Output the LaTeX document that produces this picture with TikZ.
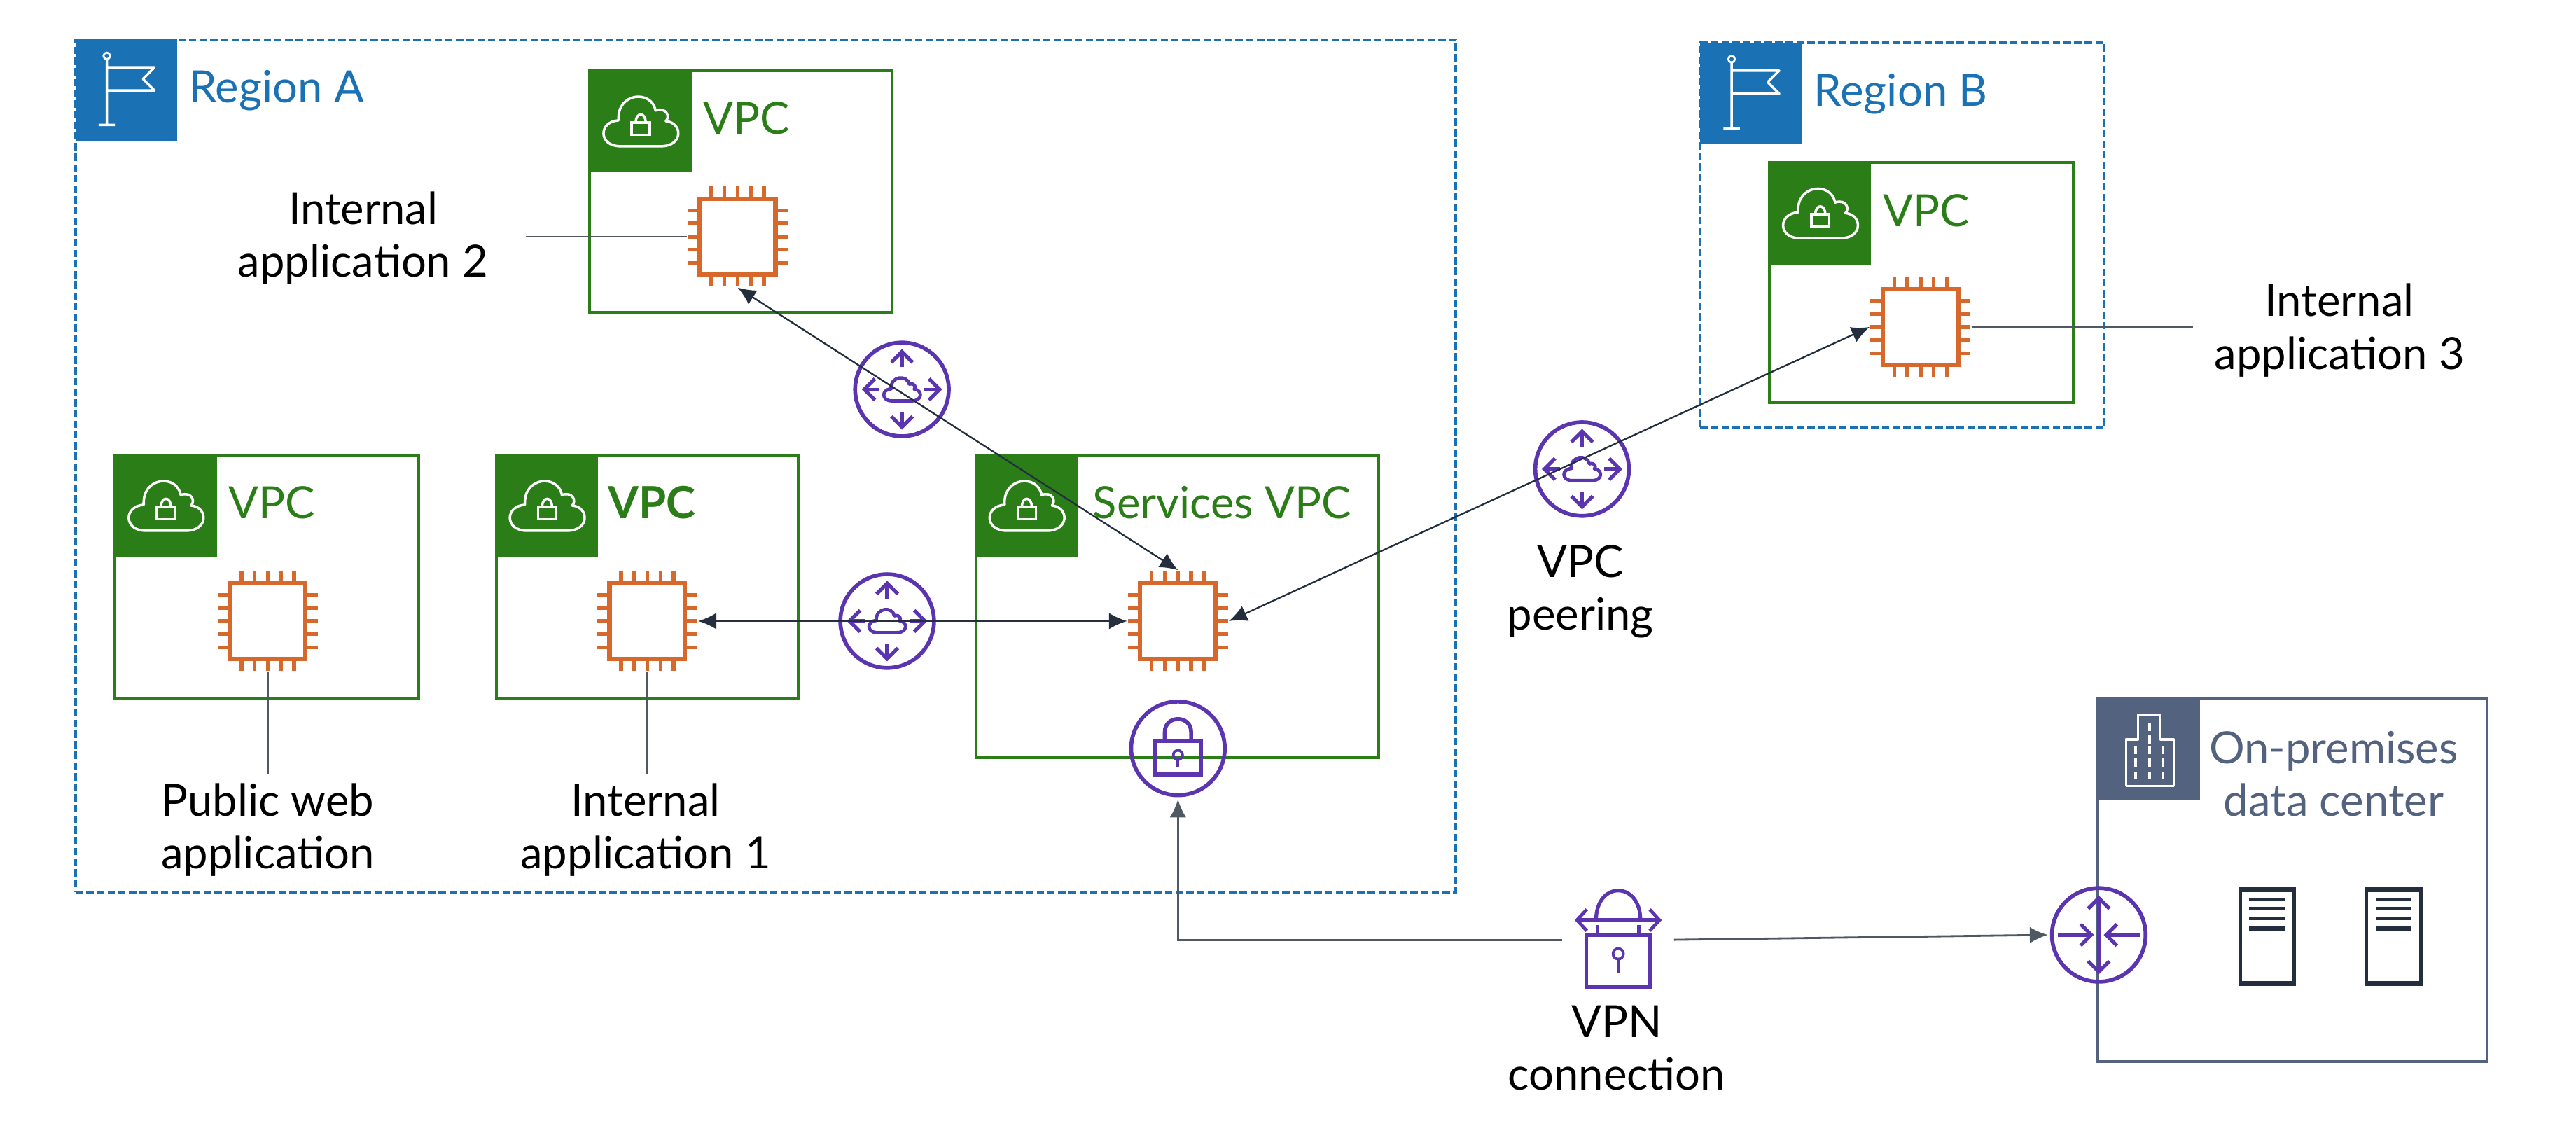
\documentclass[tikz,border=0pt]{standalone}
\usepackage{fontspec}
\setmainfont{Lato}
\usetikzlibrary{arrows.meta}
\definecolor{regblau}{HTML}{1A72B5}
\definecolor{vpcgruen}{HTML}{2B7D18}
\definecolor{chiporange}{HTML}{D5682A}
\definecolor{hublila}{HTML}{5B34B0}
\definecolor{schiefer}{HTML}{53627E}
\definecolor{dunkel}{HTML}{232F3E}
\definecolor{leitgrau}{HTML}{4F5863}
\tikzset{
  txt/.style={align=center,text=black,font=\fontsize{27}{32}\selectfont},
  regbox/.style={draw=regblau,dashed,dash pattern=on 4.5pt off 2pt,line width=1.5pt,anchor=north west,outer sep=0pt,inner sep=0pt},
  reghead/.style={fill=regblau,anchor=north west,minimum size=62pt,inner sep=0pt,outer sep=0pt},
  reglabel/.style={anchor=west,text=regblau,inner sep=0pt,font=\fontsize{27}{32}\selectfont},
  vpcbox/.style={draw=vpcgruen,line width=1.7pt,anchor=north west,outer sep=0pt,inner sep=0pt},
  vpchead/.style={fill=vpcgruen,anchor=north west,minimum size=62pt,inner sep=0pt,outer sep=0pt},
  vpclabel/.style={anchor=west,text=vpcgruen,inner sep=0pt,font=\fontsize{27}{32}\selectfont},
  chipbox/.style={draw=chiporange,line width=2.6pt,minimum size=46pt,inner sep=0pt,outer sep=8pt},
  pin/.style={chiporange,line width=2.3pt},
  hubring/.style={circle,draw=hublila,line width=2.4pt,minimum size=57pt,inner sep=0pt,outer sep=2.5pt},
  hubvec/.style={-{Straight Barb[length=6.5pt,width=13pt,line width=2.2pt]},hublila,line width=2.2pt},
  lil/.style={hublila,line width=2.4pt},
  conn/.style={{Latex[length=11pt,width=10pt]}-{Latex[length=11pt,width=10pt]},dunkel,line width=1pt},
  connr/.style={-{Latex[length=11pt,width=10pt]},leitgrau,line width=1.2pt},
  leit/.style={leitgrau,line width=1pt},
  cloudic/.pic={
    \draw[#1,line join=round] (-.55,1) .. controls (-1.15,1) and (-1.15,0) .. (-.6,-.05) .. controls (-.65,-1.2) and (.3,-1.3) .. (.4,-.45) .. controls (.7,-.6) and (.8,-.2) .. (.68,-.02) .. controls (1.15,.05) and (1.15,1) .. (.55,1) -- cycle;
  },
  flagic/.pic={
    \draw[white,line width=1.5pt,line join=round] (19,12)--(19,52) (14,52)--(24,52) (19,17)--(48,17)--(41,24)--(48,31)--(19,31);
    \draw[white,line width=1.2pt] (19,10) circle [radius=2pt];
  },
  chipic/.pic={
    \node[chipbox] (body) {};
    \foreach \t in {-16,-8,0,8,16}{
      \draw[pin] (\t,-23)--(\t,-30.5) (\t,23)--(\t,30.5) (-23,\t)--(-30.5,\t) (23,\t)--(30.5,\t);}
  },
  hubic/.pic={
    \node[hubring] (body) {};
    \foreach \a in {0,90,180,270}{\draw[hubvec] (\a:13.5)--(\a:24.5);}
    \pic[xscale=11,yscale=7] {cloudic={hublila,line width=2pt}};
  },
  lockic/.pic={
    \node[hubring] (body) {};
    \draw[lil] (-14,-4.5) rectangle (14,16);
    \draw[lil] (-8,-4.5)--(-8,-10) .. controls (-8,-20.5) and (8,-20.5) .. (8,-10)--(8,-4.5);
    \draw[hublila,line width=1.6pt] (0,4) circle [radius=2.8pt];
    \draw[hublila,line width=1.6pt] (0,6.8)--(0,11);
  },
  vpnic/.pic={
    \node[minimum width=68pt,minimum height=60pt,inner sep=0pt,outer sep=0pt] (body) {};
    \draw[lil] (-19.5,-3) rectangle (19.5,29);
    \draw[hublila,line width=2.2pt] (-13.5,-12) .. controls (-13.5,-36) and (13.5,-36) .. (13.5,-12);
    \draw[hublila,line width=1.8pt] (-12.5,-9)--(-12.5,-3) (12.5,-9)--(12.5,-3);
    \draw[{Straight Barb[length=6pt,width=13pt,line width=2pt]}-{Straight Barb[length=6pt,width=13pt,line width=2pt]},hublila,line width=2.4pt] (-26.5,-12)--(26.5,-12);
    \draw[hublila,line width=1.6pt] (0,8.5) circle [radius=3.2pt];
    \draw[hublila,line width=1.6pt] (0,11.7)--(0,20);
  },
  routeric/.pic={
    \node[hubring] (body) {};
    \draw[hubvec] (0,0)--(0,-24);
    \draw[hubvec] (0,0)--(0,24);
    \draw[hubvec] (-25,0)--(-3,0);
    \draw[hubvec] (25,0)--(3,0);
  },
  serveric/.pic={
    \node[draw=dunkel,line width=2pt,minimum width=33pt,minimum height=58pt,inner sep=0pt,outer sep=0pt] (body) {};
    \draw[dunkel,line width=3pt] (-16.5,-28.5)--(16.5,-28.5) (-16.5,28.5)--(16.5,28.5);
    \foreach \y in {-22.5,-17,-11,-5}{\draw[dunkel,line width=2.4pt] (-11,\y)--(11,\y);}
  },
}
\begin{document}
\begin{tikzpicture}[x=1pt,y=-1pt]
  \useasboundingbox (0,0) rectangle (1568,689.2);
  % regions
  \foreach \n/\x/\y/\w/\h/\lab in {A/46/24/840/519/Region A, B/1035/26/246/234/Region B}{
    \node[regbox,minimum width=\w pt,minimum height=\h pt] (reg\n) at (\x,\y) {};
    \node[reghead] (reg\n head) at (\x,\y) {};
    \pic at (\x,\y) {flagic};
    \node[reglabel] (reg\n lab) at (\x+69,\y+31) {\lab};
  }
  % vpc boxes
  \foreach \n/\x/\y/\w/\h/\lx/\lab in {two/359/43/184/147/69/VPC, three/1077/99/185/146/69/VPC, pub/70/277/185/148/69/VPC, one/302/277/184/148/68/\textbf{VPC}, serv/594/277/245/184/71/Services VPC}{
    \node[vpcbox,minimum width=\w pt,minimum height=\h pt] (vpc\n) at (\x,\y) {};
    \node[vpchead] (vpc\n head) at (\x,\y) {};
    \pic[xscale=22.5,yscale=15] at (\x+31,\y+31) {cloudic={white,line width=1.5pt}};
    \draw[white,line width=1.5pt] (\x+25.5,\y+31.5) rectangle (\x+36.5,\y+39);
    \draw[white,line width=1.5pt] (\x+28,\y+31.5) .. controls (\x+28,\y+25) and (\x+34,\y+25) .. (\x+34,\y+31.5);
    \node[vpclabel] (vpc\n lab) at (\x+\lx,\y+29) {\lab};
  }
  % on-premises
  \node[draw=schiefer,line width=1.7pt,anchor=north west,minimum width=237pt,minimum height=221pt,inner sep=0pt,outer sep=0pt] (onprem) at (1277,425) {};
  \node[fill=schiefer,anchor=north west,minimum size=62pt,inner sep=0pt,outer sep=0pt] (onpremhead) at (1277,425) {};
  \draw[white,line width=1.4pt,line join=round] (1294,478.5)--(1294,450)--(1301.5,450)--(1301.5,435)--(1315,435)--(1315,450)--(1323,450)--(1323,478.5)--cycle;
  \foreach \wx/\wy in {300/456.5,308.4/456.5,316.7/456.5,300/464,308.4/464,316.7/464,300/472,308.4/472,316.7/472,308.4/442.4,308.4/450}{
    \draw[white,line width=1.5pt] (1000+\wx,\wy-2.5)--(1000+\wx,\wy+2.5);}
  \node[txt,text=schiefer] (onpremlab) at (1420.5,471) {On-premises\\data center};
  % icons
  \pic (chiptwo) at (449,144) {chipic};
  \pic (chipthree) at (1169,199) {chipic};
  \pic (chippub) at (163,378) {chipic};
  \pic (chipone) at (394,378) {chipic};
  \pic (chipserv) at (717,378) {chipic};
  \pic (hubtop) at (549,237) {hubic};
  \pic (hubmid) at (540,378) {hubic};
  \pic (hubpeer) at (963,285.5) {hubic};
  \pic (lock) at (717,455.5) {lockic};
  \pic (vpn) at (985,572) {vpnic};
  \pic (router) at (1277.5,569) {routeric};
  \pic (srva) at (1380,570) {serveric};
  \pic (srvb) at (1457,570) {serveric};
  % labels
  \node[txt] (labtwo) at (221,145) {Internal\\application 2};
  \node[txt] (labthree) at (1424,201) {Internal\\application 3};
  \node[txt] (labpub) at (163,505) {Public web\\application};
  \node[txt] (labone) at (393,505) {Internal\\application 1};
  \node[txt] (labpeer) at (962,360) {VPC\\peering};
  \node[txt] (labvpn) at (984,638) {VPN\\connection};
  \coordinate (endtwo) at (320,144);
  \coordinate (endthree) at (1335,199);
  % connectors
  \draw[leit] (endtwo)--(chiptwobody.west);
  \draw[leit] (chipthreebody.east)--(endthree);
  \draw[leit,shorten >=2pt] (chippubbody.south)--(labpub.north);
  \draw[leit,shorten >=2pt] (chiponebody.south)--(chiponebody.south |- labone.north);
  \draw[conn] (chiptwobody.south)--(chipservbody.north);
  \draw[conn] (chiponebody.east)--(chipservbody.west);
  \draw[conn] (chipservbody.east)--(chipthreebody.west);
  \draw[connr] (vpnbody.west)-|(lockbody.south);
  \draw[connr] (vpnbody.east)--(routerbody.west);
\end{tikzpicture}
\end{document}
